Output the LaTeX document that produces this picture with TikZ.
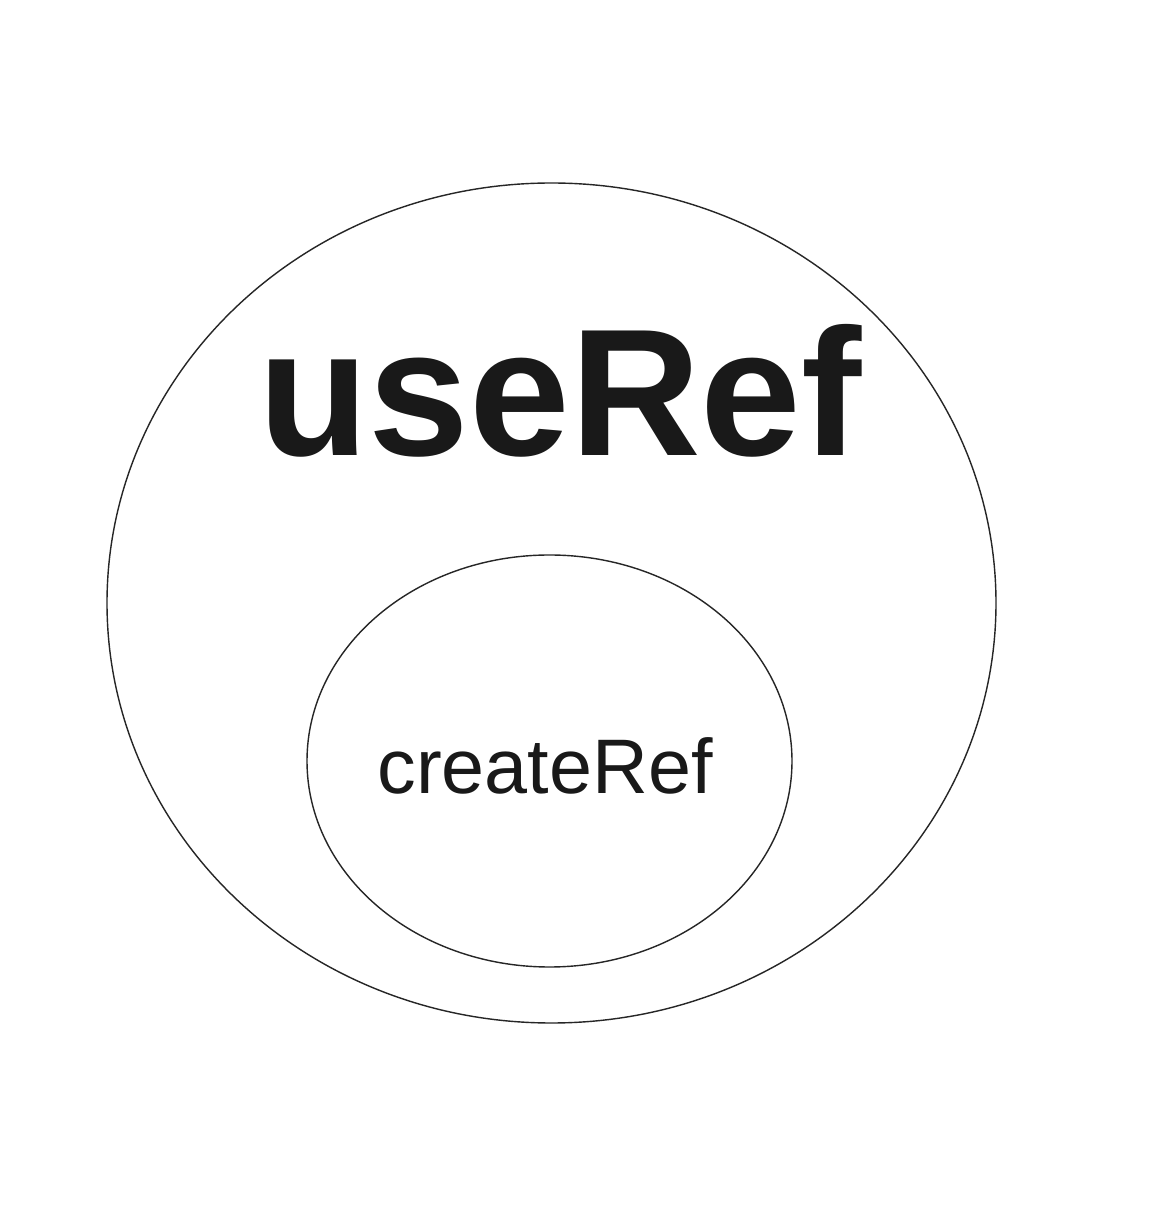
\documentclass[tikz,border=0pt]{standalone}
\usepackage{fontspec}
\setmainfont{Liberation Sans}
\usepackage{tikz}

\begin{document}
\begin{tikzpicture}
    \useasboundingbox (0,0) rectangle (23.4,24.12);
    \fill[white] (0,0) rectangle (23.4,24.12);

    \draw[black!85, line width=0.8pt] (11.03,12.06) ellipse (8.89cm and 8.40cm);
    \draw[black!85, line width=0.8pt] (10.99,8.90) ellipse (4.85cm and 4.12cm);

    \node[text=black!90] (useref) at (11.2,16.3) {\fontsize{103}{103}\selectfont\bfseries useRef};
    \node[text=black!90] (createref) at (10.9,8.8) {\fontsize{44}{44}\selectfont createRef};
\end{tikzpicture}
\end{document}
